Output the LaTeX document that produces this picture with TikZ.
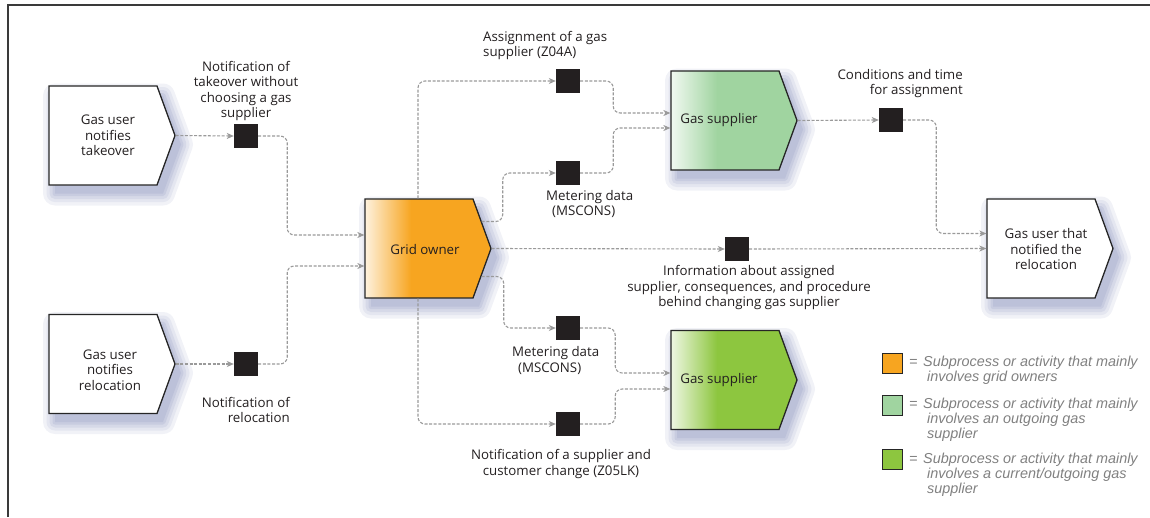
\documentclass[tikz,border=0pt]{standalone}
\usepackage{fontspec}
\setmainfont{Open Sans}
\newfontfamily\legfont{Liberation Sans}
\usetikzlibrary{shapes.symbols,arrows.meta,calc}
\definecolor{orng}{HTML}{F7A520}
\definecolor{lgrn}{HTML}{A0D4A0}
\definecolor{bgrn}{HTML}{8DC63F}
\definecolor{sqc}{HTML}{231F20}
\definecolor{lnc}{HTML}{9A9A9A}
\definecolor{legc}{HTML}{808080}
\definecolor{framec}{HTML}{3A3A3A}
\definecolor{txtc}{HTML}{231F20}
\definecolor{shA}{HTML}{F1F2F7}
\definecolor{shB}{HTML}{E4E6F0}
\definecolor{shC}{HTML}{D6D9E8}
\definecolor{shD}{HTML}{C8CCE0}
\definecolor{shE}{HTML}{BCC1D9}
\newcommand{\softshadow}[2]{%
  \draw[draw=shA, line width=24pt, line join=round] ($(#1,#2)+(-48,-40)$) -- ($(#1,#2)+(60,-40)$) -- ($(#1,#2)+(78,9)$) -- ($(#1,#2)+(60,58)$) -- ($(#1,#2)+(-48,58)$) -- cycle;
  \draw[draw=shB, line width=17pt, line join=round] ($(#1,#2)+(-48,-40)$) -- ($(#1,#2)+(60,-40)$) -- ($(#1,#2)+(78,9)$) -- ($(#1,#2)+(60,58)$) -- ($(#1,#2)+(-48,58)$) -- cycle;
  \draw[draw=shC, line width=11pt, line join=round] ($(#1,#2)+(-48,-40)$) -- ($(#1,#2)+(60,-40)$) -- ($(#1,#2)+(78,9)$) -- ($(#1,#2)+(60,58)$) -- ($(#1,#2)+(-48,58)$) -- cycle;
  \draw[draw=shD, line width=5pt, line join=round] ($(#1,#2)+(-48,-40)$) -- ($(#1,#2)+(60,-40)$) -- ($(#1,#2)+(78,9)$) -- ($(#1,#2)+(60,58)$) -- ($(#1,#2)+(-48,58)$) -- cycle;
  \fill[shE] ($(#1,#2)+(-48,-40)$) -- ($(#1,#2)+(60,-40)$) -- ($(#1,#2)+(78,9)$) -- ($(#1,#2)+(60,58)$) -- ($(#1,#2)+(-48,58)$) -- cycle;}
\begin{document}
\begin{tikzpicture}[x=1pt,y=-1pt,
  font=\fontsize{13.3}{15.5}\selectfont, text=txtc,
  proc/.style={signal, signal to=east, signal pointer angle=140,
    minimum width=126pt, minimum height=99pt, inner sep=0pt,
    draw=black!85, line width=1.3pt},
  grad/.style={path picture={
    \fill[#1] (path picture bounding box.south west) rectangle (path picture bounding box.north east);
    \shade[left color=white!85!#1, right color=#1] (path picture bounding box.south west) rectangle ([xshift=46pt]path picture bounding box.north west);
  }},
  ptxt/.style={inner sep=0pt, align=center},
  msg/.style={draw=none, fill=sqc, minimum size=24pt, inner sep=0pt},
  conn/.style={draw=lnc, line width=1.1pt, dash pattern=on 3pt off 1.6pt, rounded corners=7pt,
    -{Stealth[length=7pt,width=6pt,inset=2pt]}},
  lbl/.style={inner sep=0pt},
  legsq/.style={draw=black!85, line width=1.3pt, minimum size=20pt, inner sep=0pt},
  legtxt/.style={inner sep=0pt, font=\legfont\itshape\fontsize{14.4}{15.2}\selectfont, text=legc, align=left},
]
\useasboundingbox (0,0) rectangle (1150,517);
\draw[framec, line width=1.5pt] (8,517) -- (8,5) -- (1150,5);

% soft shadows behind the process shapes
\softshadow{103}{135.5}
\softshadow{103}{364}
\softshadow{419}{248.5}
\softshadow{725}{120.5}
\softshadow{725}{380}
\softshadow{1041}{248.5}

% process nodes
\node[proc, fill=white] (take) at (103,135.5) {};
\node[proc, fill=white] (reloc) at (103,364) {};
\node[proc, grad=orng] (grid) at (419,248.5) {};
\node[proc, grad=lgrn] (supT) at (725,120.5) {};
\node[proc, grad=bgrn] (supB) at (725,380) {};
\node[proc, fill=white] (user) at (1041,248.5) {};

\node[ptxt] (takeT) at ($(take.center)+(5,0)$) {Gas user\\notifies\\takeover};
\node[ptxt] (relocT) at ($(reloc.center)+(7,6)$) {Gas user\\notifies\\relocation};
\node[ptxt] (gridT) at ($(grid.center)+(6,1)$) {Grid owner};
\node[ptxt] (supTT) at ($(supT.center)+(-6,0)$) {Gas supplier};
\node[ptxt] (supBT) at ($(supB.center)+(-6,0)$) {Gas supplier};
\node[ptxt] (userT) at ($(user.center)+(5,1)$) {Gas user that\\notified the\\relocation};

% message squares
\node[msg] (sqT) at (246,136) {};
\node[msg] (sqR) at (246,364) {};
\node[msg] (sqA) at (568,81) {};
\node[msg] (sqM1) at (568,173) {};
\node[msg] (sqM2) at (568,328) {};
\node[msg] (sqZ) at (568,424) {};
\node[msg] (sqC) at (891,120) {};
\node[msg] (sqI) at (737,249) {};

% labels
\node[lbl, align=center] (lT) at (246,91) {Notification of\\takeover without\\choosing a gas\\supplier};
\node[lbl, align=right, anchor=east] (lR) at (290,410) {Notification of\\relocation};
\node[lbl, align=left, anchor=west] (lA) at (483,45.5) {Assignment of a gas\\supplier (Z04A)};
\node[lbl, align=left, anchor=west] (lM1) at (546,204) {Metering data\\\hspace*{6pt}(MSCONS)};
\node[lbl, align=left, anchor=west] (lM2) at (512,360.5) {Metering data\\\hspace*{6pt}(MSCONS)};
\node[lbl, align=center] (lZ) at (561,464) {Notification of a supplier and\\customer change (Z05LK)};
\node[lbl, align=right, anchor=east] (lC) at (963,83.5) {Conditions and time\\for assignment};
\node[lbl, align=center] (lI) at (749,288) {Information about assigned\\supplier, consequences, and procedure\\behind changing gas supplier};

% connectors
\draw[conn] (take.east) -- (sqT.west);
\draw[conn] (sqT.east) -- ++(29,0) |- ($(grid.west)+(0,-13.5)$);
\draw[conn] (reloc.east) -- (sqR.west);
\draw[conn] (sqR.east) -- ++(29,0) |- ($(grid.west)+(0,17.5)$);
\draw[conn] ($(grid.north)+(-1,0)$) |- (sqA.west);
\draw[conn] ($(grid.south)+(-1,0)$) |- (sqZ.west);
\draw[conn] ($(grid.east)+(-10,-27)$) -- ++(21,0) |- (sqM1.west);
\draw[conn] ($(grid.east)+(-10,28)$) -- ++(22,0) |- (sqM2.west);
\draw[conn] (grid.east) -- (sqI.west);
\draw[conn] (sqI.east) -- (user.west);
\draw[conn] (sqA.east) -- ++(33,0) |- ($(supT.west)+(0,-7.5)$);
\draw[conn] (sqM1.east) -- ++(33,0) |- ($(supT.west)+(0,7.5)$);
\draw[conn] (sqM2.east) -- ++(35,0) |- ($(supB.west)+(0,-7)$);
\draw[conn] (sqZ.east) -- ++(35,0) |- ($(supB.west)+(0,9)$);
\draw[conn] (supT.east) -- (sqC.west);
\draw[conn] (sqC.east) -- ++(33,0) |- ($(user.west)+(0,-15)$);

% legend
\node[legsq, fill=orng] (k1) at (892.5,363.5) {};
\node[legsq, fill=lgrn] (k2) at (892.5,405.5) {};
\node[legsq, fill=bgrn] (k3) at (892.5,459.5) {};
\node[legtxt, anchor=west] (e1) at (909,363) {=};
\node[legtxt, anchor=west] (e2) at (909,405) {=};
\node[legtxt, anchor=west] (e3) at (909,460) {=};
\node[legtxt, anchor=west] (t1) at (923,370.5) {Subprocess or activity that mainly\\\hspace*{4pt}involves grid owners};
\node[legtxt, anchor=west] (t2) at (923,420) {Subprocess or activity that mainly\\\hspace*{4pt}involves an outgoing gas\\\hspace*{4pt}supplier};
\node[legtxt, anchor=west] (t3) at (923,475) {Subprocess or activity that mainly\\\hspace*{4pt}involves a current/outgoing gas\\\hspace*{4pt}supplier};
\end{tikzpicture}
\end{document}
